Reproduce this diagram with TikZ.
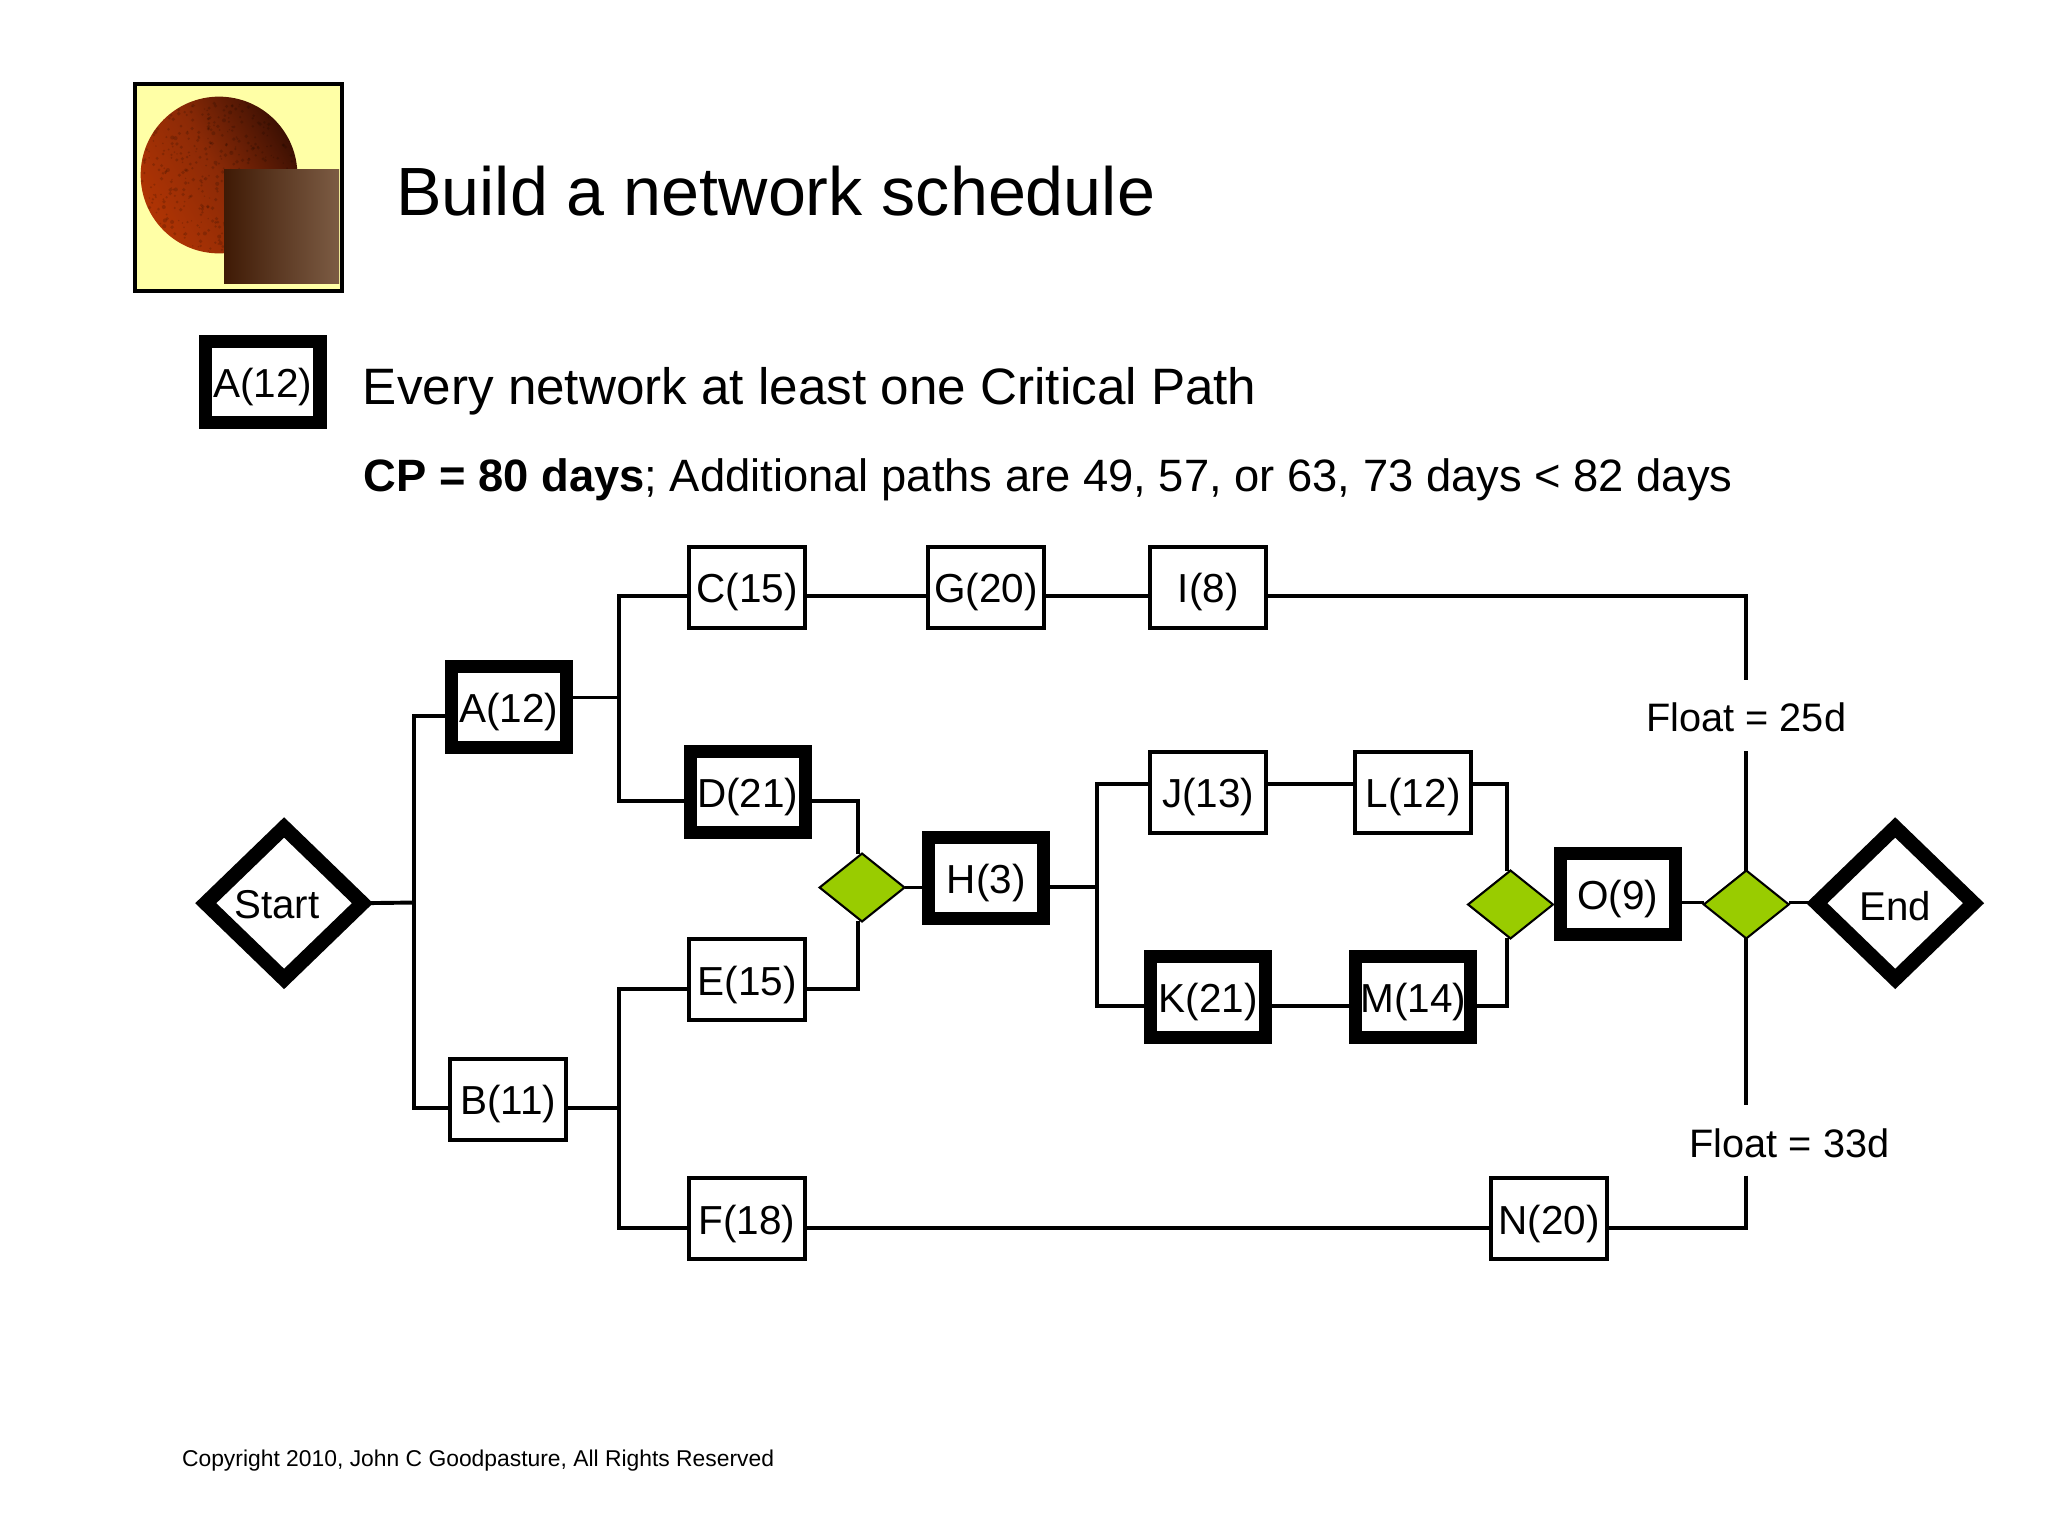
\documentclass[tikz,border=0pt]{standalone}
\usepackage{fontspec}
\setmainfont{Liberation Sans}
\usetikzlibrary{shapes.geometric}
\definecolor{leaf}{HTML}{99CC00}
\definecolor{pale}{HTML}{FFFFA6}
\definecolor{ballA}{HTML}{B03404}
\definecolor{ballB}{HTML}{8C2A06}
\definecolor{ballC}{HTML}{3C1003}
\definecolor{slabA}{HTML}{3F1A05}
\definecolor{slabB}{HTML}{7C5C44}
\tikzset{
  box/.style={draw=black,fill=white,rectangle,line width=1.5pt,minimum width=44.5pt,minimum height=31pt,inner sep=0pt,outer sep=0pt,text height=14pt,text depth=2.1pt,font=\fontsize{15.5}{18}\selectfont},
  critbox/.style={box,line width=5pt,minimum width=44pt,minimum height=31pt},
  gate/.style={draw=black,fill=leaf,diamond,line width=0.8pt,minimum width=32.5pt,minimum height=26pt,inner sep=0pt,outer sep=0pt},
  term/.style={draw=black,fill=white,diamond,line width=5.6pt,miter limit=10,minimum width=60pt,minimum height=58pt,inner sep=0pt,outer sep=0pt,font=\fontsize{15.4}{18}\selectfont},
  wire/.style={draw=black,line width=1.5pt},
  tag/.style={inner sep=0pt,outer sep=0pt,font=\fontsize{15.2}{18}\selectfont}
}
\begin{document}
\begin{tikzpicture}[x=0.5pt,y=-0.5pt]
\useasboundingbox (0,0) rectangle (1568,1176);
% icon
\fill[pale,draw=black,line width=1.6pt] (103.5,64.5) rectangle (262,222.7);
\shade[left color=ballA,right color=ballC,middle color=ballB,shading angle=120] (167.7,134) circle (60);
\pgfmathsetseed{7}
\foreach \i in {1,...,420}{
  \pgfmathsetmacro\ang{rnd*360}
  \pgfmathsetmacro\rad{59*sqrt(rnd)}
  \pgfmathsetmacro\dot{0.5+rnd*1.1}
  \fill[black,opacity=0.16] (167.7,134) ++(\ang:\rad) circle (\dot);
}
\shade[left color=slabA,right color=slabB] (171.5,129.4) rectangle (259.6,216.7);
% heading
\node[anchor=base west,inner sep=0pt,font=\fontsize{26.13}{30}\selectfont] (title) at (303,165) {Build a network schedule};
\node[critbox] (legend) at (201,292.5) {A(12)};
\node[anchor=base west,inner sep=0pt,font=\fontsize{19.6}{23}\selectfont] (line1) at (277.5,310) {Every network at least one Critical Path};
\node[anchor=base west,inner sep=0pt,font=\fontsize{17.36}{20}\selectfont] (line2) at (278,376) {\textbf{CP = 80 days}; Additional paths are 49, 57, or 63, 73 days < 82 days};
\node[anchor=base west,inner sep=0pt,font=\fontsize{8.75}{11}\selectfont] (copy) at (139,1123) {Copyright 2010, John C Goodpasture, All Rights Reserved};
% nodes
\node[term,text height=12pt,text depth=0pt] (start) at (217.5,691.5) {Start\kern5.5pt\relax};
\node[term,text height=13pt,text depth=0pt] (end) at (1451,691.5) {End};
\node[critbox] (A) at (389.5,541.5) {A(12)};
\node[box] (B) at (389,841.5) {B(11)};
\node[box] (C) at (572,449.5) {C(15)};
\node[critbox] (D) at (572.5,606.5) {D(21)};
\node[box] (E) at (572,750) {E(15)};
\node[box] (F) at (572,933) {F(18)};
\node[box] (G) at (755,449.5) {G(20)};
\node[critbox] (H) at (755,672) {H(3)};
\node[box] (I) at (925,449.5) {I(8)};
\node[box] (J) at (925,606.5) {J(13)};
\node[critbox] (K) at (925,763.5) {K(21)};
\node[box] (L) at (1082,606.5) {L(12)};
\node[critbox] (M) at (1082,763.5) {M(14)};
\node[box] (N) at (1186,933) {N(20)};
\node[critbox] (O) at (1238.5,684.5) {O(9)};
\node[gate] (g1) at (660,679.5) {};
\node[gate] (g2) at (1156.5,692.5) {};
\node[gate] (g3) at (1337,692.5) {};
\node[tag] (f25) at (1337,549) {Float = 25d};
\node[tag] (f33) at (1370,875) {Float = 33d};
% junctions
\coordinate (j0) at (317,691);
\coordinate (jA) at (317,548);
\coordinate (jB) at (317,848);
\coordinate (j1) at (474,534);
\coordinate (jC) at (474,456);
\coordinate (jD) at (474,613);
\coordinate (j2) at (474,848);
\coordinate (jE) at (474,757);
\coordinate (jF) at (474,940);
\coordinate (kD) at (657,613);
\coordinate (kE) at (657,757);
\coordinate (j3) at (840,679);
\coordinate (jJ) at (840,600);
\coordinate (jK) at (840,770);
\coordinate (kL) at (1154,600);
\coordinate (kM) at (1154,770);
\coordinate (kI) at (1337,456);
\coordinate (e25a) at (1337,521);
\coordinate (e25b) at (1337,575);
\coordinate (e33a) at (1337,846);
\coordinate (e33b) at (1337,900);
\coordinate (kN) at (1337,940);
\coordinate (y691) at (0,691);
% connectors
\draw[wire] (start.east) -- (j0);
\draw[wire] (A.west |- jA) -- (jA) -- (jB) -- (B.west |- jB);
\draw[wire] (A.east |- j1) -- (j1);
\draw[wire] (C.west |- jC) -- (jC) -- (jD) -- (D.west |- jD);
\draw[wire] (B.east |- j2) -- (j2);
\draw[wire] (E.west |- jE) -- (jE) -- (jF) -- (F.west |- jF);
\draw[wire] (C.east |- jC) -- (G.west |- jC);
\draw[wire] (G.east |- jC) -- (I.west |- jC);
\draw[wire] (I.east |- jC) -- (kI) -- (e25a);
\draw[wire] (e25b) -- (g3.north);
\draw[wire] (g3.south) -- (e33a);
\draw[wire] (e33b) -- (kN) -- (N.east |- kN);
\draw[wire] (F.east |- jF) -- (N.west |- jF);
\draw[wire] (D.east |- kD) -- (kD) -- (g1.north -| kD);
\draw[wire] (E.east |- kE) -- (kE) -- (g1.south -| kE);
\draw[wire] (g1.east) -- (H.west |- g1.east);
\draw[wire] (H.east |- j3) -- (j3);
\draw[wire] (J.west |- jJ) -- (jJ) -- (jK) -- (K.west |- jK);
\draw[wire] (J.east |- jJ) -- (L.west |- jJ);
\draw[wire] (K.east |- jK) -- (M.west |- jK);
\draw[wire] (L.east |- kL) -- (kL) -- (g2.north -| kL);
\draw[wire] (M.east |- kM) -- (kM) -- (g2.south -| kM);
\draw[wire] (O.east |- y691) -- (g3.west |- y691);
\draw[wire] (g3.east |- y691) -- (end.west |- y691);
\end{tikzpicture}
\end{document}
